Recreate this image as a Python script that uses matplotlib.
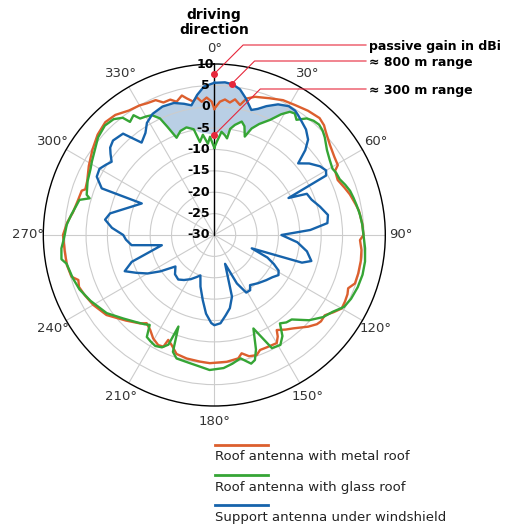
import numpy as np
import matplotlib.pyplot as plt
from matplotlib.lines import Line2D

# passive gain in dBi, angles clockwise from driving direction (deg)
metal_deg = [0, 2.4, 4.5, 6.7, 8.7, 11.2, 13.3, 16.4, 22, 27, 32, 37, 42, 45, 47, 52, 57, 60.5,
             62, 66, 70, 73.3, 77.6, 80.4, 85.5, 90, 92, 95.8, 100, 105, 109, 111.7, 114, 117,
             120, 123, 126, 129, 131, 134.3, 139.8, 143, 146.7, 148, 150, 155, 158.3, 160.6,
             164, 167, 169, 174.4, 182, 186.5, 192.6, 197.6, 201.2, 203.7, 204.5, 207, 210.6,
             214, 217.5, 220, 226, 233.4, 240, 245, 249, 251.7, 253.7, 258.5, 264, 270, 275,
             279, 284.4, 288.5, 289.5, 293, 298.8, 305, 310.7, 316, 320.5, 325.6, 330, 333,
             336.5, 339, 342, 344.2, 346.9, 348.6, 351, 352.7, 354.6, 356.8, 358.9, 360]
metal_db = [-0.5, 1.2, 1.8, 1.2, 2.1, 1.0, 2.8, 3.7, 4.5, 5.4, 5.8, 6.4, 6.8, 6.3, 5.6, 4.3, 3.5, 3.2,
            2.0, 1.6, 2.4, 3.1, 3.8, 4.3, 4.7, 4.9, 4.1, 4.6, 4.8, 4.85, 4.8, 3.7, 4.1, 4.3,
            4.4, 3.2, 1.95, 2.1, 1.8, 0.7, -1.4, -2.3, -3.4, -2.0, -0.8, -1.0, -1.05, -0.2,
            -0.5, -1.6, -0.6, -0.2, 0.0, -0.2, -0.4, -0.8, -2.4, -3.2, -1.3, -1.1, -1.9,
            -3.2, -4.0, -3.0, -1.2, 1.4, 2.7, 3.4, 3.9, 3.5, 4.8, 5.2, 5.2, 5.4, 4.5,
            3.5, 2.9, 2.7, 2.0, 2.3, 3.5, 4.8, 6.0, 6.7, 6.4, 5.3, 5.0, 4.6,
            4.4, 3.2, 3.3, 2.4, 3.5, 2.6, 1.6, 2.5, 1.3, 2.2, 1.2, -0.5]

glass_deg = [0, 1.5, 4, 6, 7.5, 8.5, 10.6, 13.6, 15.5, 17.2, 19.3, 22, 25.8, 29, 31.5, 33.5, 35.5,
             38.4, 41, 43.5, 46, 48.5, 53, 57, 60.7, 63, 66, 69, 72, 75, 78, 82, 86, 90, 95,
             100, 105, 110, 115, 119, 123, 127, 132, 137.5, 140.5, 143.4, 146, 149, 153, 157.3,
             160, 162, 164, 168, 172, 176, 182, 186, 191, 197, 199.5, 201.4, 202.7, 205, 208,
             211, 213.5, 215.7, 218, 222, 227.5, 234, 242, 248, 253, 259, 261, 265, 268, 270,
             274, 278, 282, 284.6, 286.4, 287.5, 293, 298, 301, 305, 310, 315, 319, 322, 323.3,
             326, 327.5, 330, 332.5, 335, 336.5, 338.8, 342, 345.5, 349, 351.2, 353.5, 356,
             357.5, 360]
glass_db = [-9.6, -8.2, -5.8, -6.5, -7.2, -4.9, -3.8, -2.7, -3.6, -5.9, -3.6, -2.0, -0.1, 2.3, 3.8, 4.1, 3.1,
            4.8, 5.4, 5.6, 5.2, 4.5, 3.0, 2.2, 1.7, 2.0, 2.1, 2.8, 3.4, 3.7, 4.0, 4.4, 4.7, 4.9, 5.4,
            5.8, 5.9, 5.7, 5.3, 4.7, 3.0, 1.9, -0.2, -3.2, -3.5, -4.25, -1.5, 0.0, -0.3, -6.3,
            -1.5, 0.75, 1.3, -0.5, 0.4, 1.2, 1.6, 1.0, 0.5, 0.2, -1.0, -7.0, -2.2, -1.0, -0.6,
            -1.0, -1.4, -4.1, -3.5, -2.6, -1.1, 1.1, 2.8, 4.0, 4.6, 5.2, 6.2, 5.9, 5.3, 5.0,
            4.6, 3.8, 3.0, 2.6, 0.4, 1.3, 2.2, 2.8, 3.4, 4.2, 5.5, 6.2, 5.9, 4.8, 3.0,
            3.8, 2.3, 2.0, 1.6, 0.1, -2.3, -5.6, -4.4, -4.0, -4.8, -8.0, -6.4, -8.6,
            -7.0, -9.6]

wind_deg = [0, 4, 7, 10, 13, 16.5, 19, 22, 26, 30, 33, 35, 38, 41, 44.5, 47, 49.5, 53, 57, 60, 62,
            63.5, 66, 70, 75, 80, 84, 87, 90, 95, 100, 105, 107.5, 109.6, 113, 116, 119, 122, 126,
            131, 138, 144.5, 147, 151, 155, 159.5, 164, 168, 172, 176, 180, 182, 186, 190, 195,
            199, 203, 208, 214, 219, 225, 231, 236, 240, 244, 248, 252, 259, 263, 267, 270, 274,
            278, 281.7, 293.5, 292.5, 296.4, 300, 303, 305.5, 308, 310, 313, 318, 321.8, 326,
            329, 333, 338, 343, 347, 350, 353, 356, 360]
wind_db = [5.6, 5.8, 5.5, 4.6, 2.8, 0.5, 1.2, 2.5, 4.0, 4.8, 4.7, 4.2, 3.4, 2.7, 1.3, -0.9, -4.2, -2.2, -0.5, 0.2, -0.4,
           -10.6, -6.3, -5.8, -4.4, -3.0, -3.4, -7.5, -14.3, -10.5, -8.0, -6.5, -8.5, -20.7, -16.5, -14.5, -12.8, -12.3, -13.2,
           -13.9, -14.8, -15.6, -14.6, -14.6, -17.5, -22.8, -15.0, -12.5, -11.0, -9.3, -8.9, -9.4, -11.5, -14.5, -17.5,
           -20.0, -19.3, -18.3, -17.3, -16.6, -17.0, -18.3, -14.8, -12.0, -9.8, -7.4, -9.7, -17.5, -10.5, -9.3, -8.7, -6.0,
           -4.2, -5.1, -11.5, -1.5, 0.7, 1.0, 0.2, -0.5, 0.8, 1.8, 2.4, 1.9, -2.5, -1.2,
           0.6, 1.8, 2.4, 2.3, 1.5, 0.8, 3.0, 4.8, 5.6]

# lower edge of the shaded 300 m - 800 m band
band_deg = [332.5, 335, 336.5, 338.8, 342, 345.5, 349, 352, 356, 0, 4, 7, 8.5, 10.6, 13.6,
            15.5, 17.2, 19.3, 22, 25.8, 29, 31.5, 33.5, 35.5]
band_db = [1.6, 0.1, -2.3, -5.6, -4.4, -4.0, -4.8, -5.8, -6.2, -6.6, -5.8, -6.3, -4.9, -3.8, -2.7,
           -3.6, -5.9, -3.6, -2.0, -0.1, 2.3, 3.8, 4.1, 3.1]

ring_ticks = [10, 5, 0, -5, -10, -15, -20, -25, -30]
angle_ticks = np.arange(0, 360, 30)

labels = ['Roof antenna with metal roof', 'Roof antenna with glass roof',
          'Support antenna under windshield']
colors = ['#dc5f2e', '#35a535', '#1663ab']
red = '#e6283c'

W, H = 506, 525
fig = plt.figure(figsize=(W / 100, H / 100), dpi=100)
ax = fig.add_axes([43.3 / W, 119 / H, 342 / W, 342 / H], projection='polar')
ax.set_theta_zero_location('N')
ax.set_theta_direction(-1)
ax.set_ylim(-30, 10)
ax.set_yticks(np.arange(-25, 10, 5))
ax.set_yticklabels([])
ax.set_xticks(np.deg2rad(angle_ticks))
ax.set_xticklabels([f'{a}°' for a in angle_ticks], fontsize=9.5, color='#333333')
ax.tick_params(axis='x', pad=0.5)
ax.grid(color='#cccccc', lw=0.8)
ax.spines['polar'].set_color('black')
ax.spines['polar'].set_linewidth(1.0)

# shaded band: blue curve on top, band edge below
wd = np.array(wind_deg, float)
wv = np.array(wind_db, float)
left = wd >= 332
right = (wd > 0) & (wd <= 36)
top_deg = np.concatenate([wd[left] - 360, wd[right]])
top_db = np.concatenate([wv[left], wv[right]])
bd = np.array(band_deg, float)
bd[bd > 180] -= 360
poly_deg = np.concatenate([top_deg, bd[::-1]])
poly_db = np.concatenate([top_db, np.array(band_db)[::-1]])
ax.fill(np.deg2rad(poly_deg), poly_db, color='#b9cfe5', lw=0, zorder=1)

ax.plot([0, 0], [-30, 10], color='black', lw=1.0, zorder=2)

for deg, db, col in zip([metal_deg, glass_deg, wind_deg], [metal_db, glass_db, wind_db], colors):
    ax.plot(np.deg2rad(deg), db, color=col, lw=1.7, zorder=3)

for v in ring_ticks:
    off = 0 if v == 10 else -3
    ax.annotate(str(v), xy=(0, v), xytext=(off, 0), textcoords='offset points',
                ha='right', va='center', fontsize=9, fontweight='bold', zorder=4)

# annotations with elbow leader lines
note_deg = [0, 6.6, 0]
note_db = [7.7, 5.6, -6.6]
note_y = [45, 61, 89]
note_text = ['passive gain in dBi', '≈ 800 m range', '≈ 300 m range']
for deg, val, ty, txt in zip(note_deg, note_db, note_y, note_text):
    px, py = ax.transData.transform((np.deg2rad(deg), val))
    ey = H - ty
    ex = px + (ey - py)
    fig.add_artist(Line2D([px / W, ex / W, 366 / W], [py / H, ey / H, ey / H],
                          transform=fig.transFigure, color=red, lw=0.8))
    fig.text(369 / W, ey / H, txt, ha='left', va='center_baseline', fontsize=9, fontweight='bold')
ax.plot(np.deg2rad(note_deg), note_db, 'o', color=red, ms=4, zorder=5, clip_on=False)

fig.text(214 / W, 1 - 8 / H, 'driving\ndirection', ha='center', va='top',
         fontsize=10, fontweight='bold', linespacing=1.1)

# legend: line above label
for i, (lab, col) in enumerate(zip(labels, colors)):
    y = 445 + 30 * i
    fig.add_artist(Line2D([215 / W, 268 / W], [1 - y / H] * 2, color=col, lw=2))
    fig.text(215 / W, 1 - (y + 12) / H, lab, fontsize=9.5, va='center', color='#222222')

fig.savefig('out.png', dpi=100)
